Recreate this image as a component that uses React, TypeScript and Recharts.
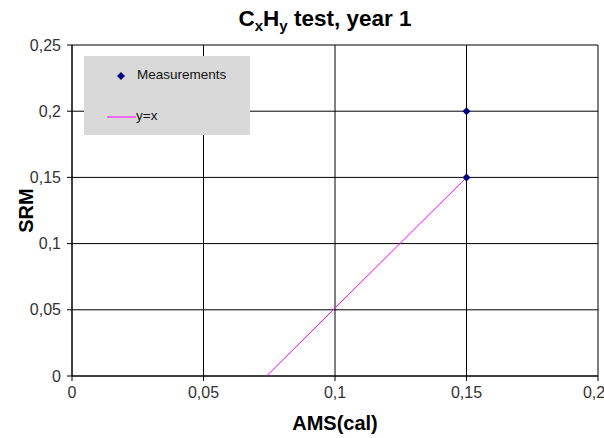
import React from 'react'
import {
  ScatterChart,
  Scatter,
  XAxis,
  YAxis,
  CartesianGrid,
  Label,
} from 'recharts'

// measured points
const measX = [0.15, 0.15]
const measY = [0.2, 0.15]

// y=x reference line as plotted
const lineX = [0.074, 0.15]
const lineY = [0, 0.15]

const xTicks = [0, 0.05, 0.1, 0.15, 0.2]
const yTicks = [0, 0.05, 0.1, 0.15, 0.2, 0.25]

const measurements = measX.map((x, i) => ({ x, y: measY[i] }))
const refLine = lineX.map((x, i) => ({ x, y: lineY[i] }))

const fmt = (v: number) => String(v).replace('.', ',')
const FONT = 'Arial, "Liberation Sans", sans-serif'

const Diamond = (props: any) => {
  const { cx, cy } = props
  if (cx == null || cy == null) return null
  const r = 4
  return (
    <polygon
      points={`${cx},${cy - r} ${cx + r},${cy} ${cx},${cy + r} ${cx - r},${cy}`}
      fill="#000080"
    />
  )
}

const NoDot = () => null

// legend drawn as an overlay so it does not shrink the plot
const LegendBox = () => (
  <div
    style={{
      position: 'absolute',
      left: 84,
      top: 56,
      width: 166,
      height: 79,
      background: '#d9d9d9',
      fontFamily: FONT,
      fontSize: 13.5,
      color: '#111',
      zIndex: 2,
    }}
  >
    <svg width={12} height={12} style={{ position: 'absolute', left: 31, top: 14 }}>
      <polygon points="6,2 10,6 6,10 2,6" fill="#000080" />
    </svg>
    <span style={{ position: 'absolute', left: 53, top: 11 }}>Measurements</span>
    <svg width={30} height={4} style={{ position: 'absolute', left: 23, top: 59 }}>
      <line x1={0} y1={2} x2={29} y2={2} stroke="#ff00ff" strokeWidth={1} />
    </svg>
    <span style={{ position: 'absolute', left: 52, top: 52 }}>y=x</span>
  </div>
)

export default function App() {
  return (
    <div style={{ position: 'absolute', left: 0, top: 0, width: 604, height: 438, background: '#fff' }}>
      <div
        style={{
          position: 'absolute',
          left: 0,
          width: 604,
          top: 6,
          textAlign: 'center',
          paddingLeft: 46,
          boxSizing: 'border-box',
          fontFamily: FONT,
          fontWeight: 'bold',
          fontSize: 22.5,
          color: '#000',
          zIndex: 2,
        }}
      >
        C<sub style={{ fontSize: 15, verticalAlign: -5 }}>x</sub>H
        <sub style={{ fontSize: 15, verticalAlign: -5 }}>y</sub> test, year 1
      </div>
      <LegendBox />
      <ScatterChart
        width={604}
        height={438}
        margin={{ top: 45, right: 6, bottom: 22, left: 12 }}
        style={{ fontFamily: FONT }}
      >
        <CartesianGrid stroke="#000" strokeOpacity={1} />
        <XAxis
          type="number"
          dataKey="x"
          domain={[0, 0.2]}
          ticks={xTicks}
          tickFormatter={fmt}
          stroke="#000"
          tick={{ fill: '#333', fontSize: 16 }}
          tickSize={5}
          tickMargin={6}
          height={40}
        >
          <Label
            value="AMS(cal)"
            position="insideBottom"
            offset={-14}
            style={{ fontWeight: 'bold', fontSize: 20, fill: '#000' }}
          />
        </XAxis>
        <YAxis
          type="number"
          dataKey="y"
          domain={[0, 0.25]}
          ticks={yTicks}
          tickFormatter={fmt}
          stroke="#000"
          tick={{ fill: '#333', fontSize: 16 }}
          tickSize={5}
          tickMargin={6}
          width={60}
        >
          <Label
            value="SRM"
            angle={-90}
            position="insideLeft"
            offset={14}
            style={{ fontWeight: 'bold', fontSize: 20, fill: '#000', textAnchor: 'middle' }}
          />
        </YAxis>
        <Scatter
          name="y=x"
          data={refLine}
          line={{ stroke: '#ff00ff', strokeWidth: 1 }}
          shape={<NoDot />}
          isAnimationActive={false}
        />
        <Scatter
          name="Measurements"
          data={measurements}
          shape={<Diamond />}
          isAnimationActive={false}
        />
      </ScatterChart>
    </div>
  )
}
